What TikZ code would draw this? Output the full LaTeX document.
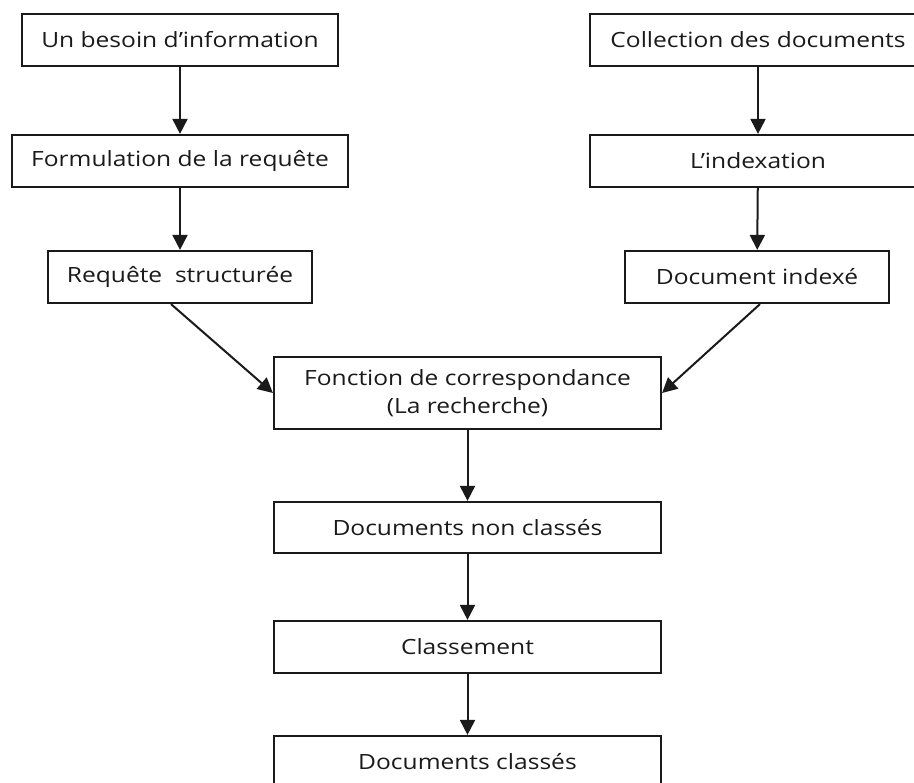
\documentclass[tikz,border=0pt]{standalone}
\usepackage{fontspec}
\setmainfont{Open Sans}[FakeStretch=1.17]
\usetikzlibrary{arrows.meta}
\definecolor{ink}{HTML}{1A1A1A}
\begin{document}
\begin{tikzpicture}[x=1pt,y=-1pt,
  stage/.style={draw=ink, line width=2.2pt, fill=white, text=ink,
    minimum height=52pt, inner sep=0pt, align=center,
    font=\fontsize{21}{28}\selectfont},
  flow/.style={draw=ink, line width=2pt,
    -{Triangle[width=15pt,length=15pt]}}]
\useasboundingbox (0,0) rectangle (914,783);

% query branch
\node[stage, minimum width=316pt] (b1) at (180,40)  {Un besoin d’information};
\node[stage, minimum width=336pt] (b2) at (180,161) {Formulation de la requête};
\node[stage, minimum width=264pt] (b3) at (180,277) {Requête\ \ structurée};

% document branch
\node[stage, minimum width=336pt] (r1) at (758,40)  {Collection des documents};
\node[stage, minimum width=336pt] (r2) at (758,161) {L’indexation};
\node[stage, minimum width=264pt] (r3) at (757,277) {Document indexé};

% matching and ranking
\node[stage, minimum width=387pt, minimum height=72pt] (f)  at (467.5,393)
  {Fonction de correspondance\\(La recherche)};
\node[stage, minimum width=387pt, minimum height=51pt] (d1) at (467.5,527.5) {Documents non classés};
\node[stage, minimum width=387pt] (d2) at (467.5,647) {Classement};
\node[stage, minimum width=387pt] (d3) at (467.5,762) {Documents classés};

\draw[flow] (b1) -- (b2);
\draw[flow] (b2) -- (b3);
\draw[flow] (r1) -- (r2);
\draw[flow] (r2) -- (r3);
\draw[flow] ([xshift=-9pt]b3.south) -- (f.west);
\draw[flow] ([xshift=3pt]r3.south) -- (f.east);
\draw[flow] (f) -- (d1);
\draw[flow] (d1) -- (d2);
\draw[flow] (d2) -- (d3);
\end{tikzpicture}
\end{document}
